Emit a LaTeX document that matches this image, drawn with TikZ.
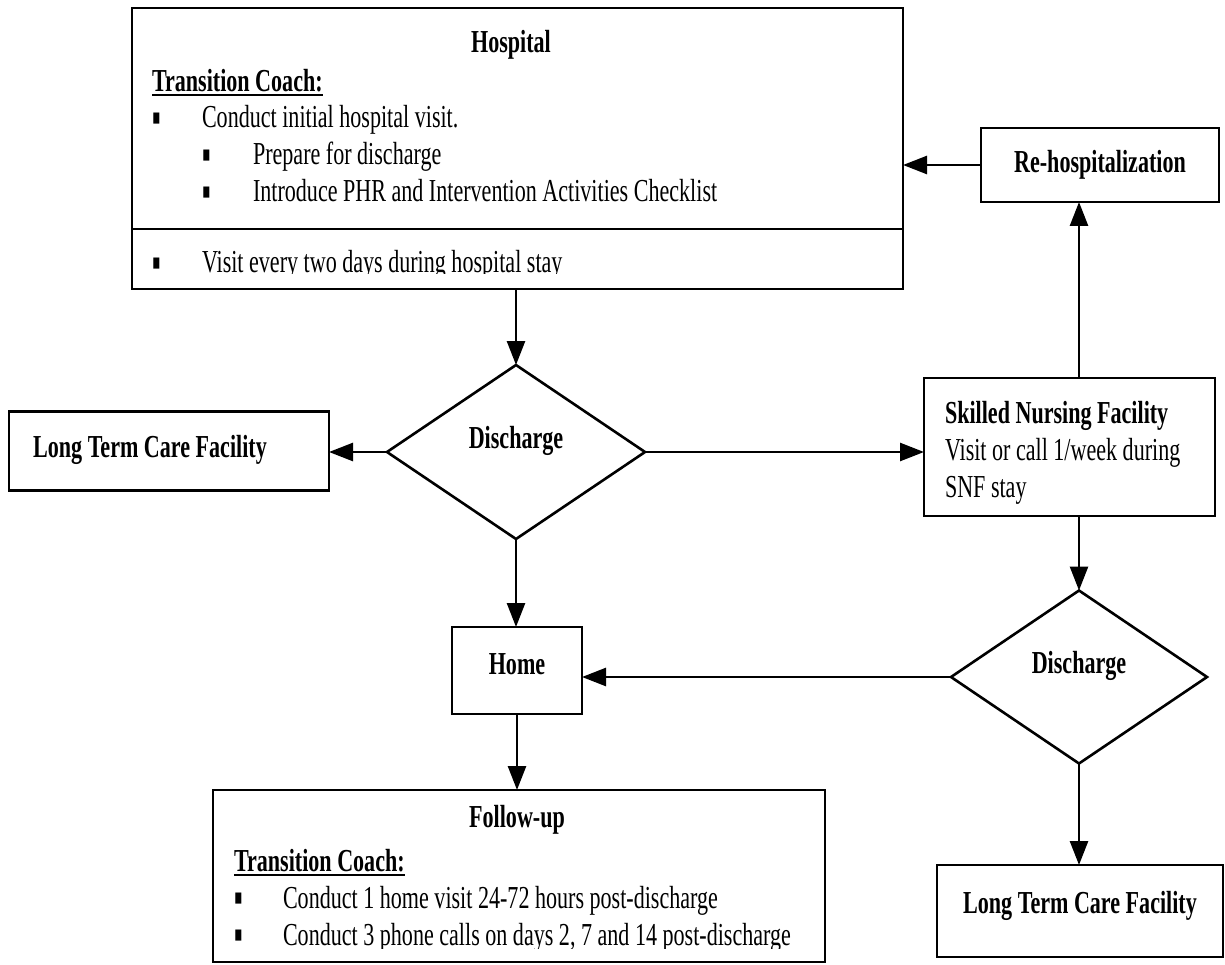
\documentclass[tikz,border=0pt]{standalone}
\usepackage{fontspec}
\setmainfont{Liberation Serif}[FakeStretch=0.69]
\usetikzlibrary{arrows.meta,shapes.geometric}
\newcommand\ulc[1]{\setbox0\hbox{#1}\rlap{\rule[-4.5pt]{\wd0}{2pt}}\box0}
\newcommand\bul{\smash{\raisebox{-4.5pt}{\scalebox{1.1}[1.4]{▪}}}}
\begin{document}
\begin{tikzpicture}[x=1pt,y=-1pt,line width=2.6pt,
  every node/.style={font=\fontsize{32pt}{37pt}\selectfont,inner sep=0pt,outer sep=0pt},
  box/.style={draw,rectangle},
  dia/.style={draw,diamond},
  txt/.style={anchor=base west},
  ctxt/.style={anchor=base,font=\fontsize{32pt}{37pt}\selectfont\bfseries},
  arr/.style={-{Triangle[length=24pt,width=18pt]}}]
\useasboundingbox (0,0) rectangle (1225,965);
% boxes
\node[box,minimum width=771pt,minimum height=281pt] (hosp) at (517.5,148.5) {};
\coordinate (divl) at (132,229);
\coordinate (divr) at (903,229);
\draw (divl) -- (divr);
\node[box,minimum width=238pt,minimum height=74pt] (rehosp) at (1100,165) {};
\node[box,minimum width=291pt,minimum height=138pt] (snf) at (1069.5,447) {};
\node[box,minimum width=320pt,minimum height=79pt] (ltc1) at (169,451) {};
\node[dia,minimum width=258pt,minimum height=174pt] (d1) at (516,452) {};
\node[dia,minimum width=256pt,minimum height=173pt] (d2) at (1079,677) {};
\node[box,minimum width=130pt,minimum height=87pt] (home) at (517,670.5) {};
\node[box,minimum width=612pt,minimum height=172pt] (fu) at (519,876) {};
\node[box,minimum width=286pt,minimum height=92pt] (ltc2) at (1080,911) {};
% hospital text
\node[ctxt] (hosptitle) at (511,53) {Hospital};
\node[txt,font=\fontsize{32pt}{37pt}\selectfont\bfseries] (htc) at (152,92) {\ulc{Transition Coach:}};
\node[anchor=base] (hb1) at (157,128) {\bul};
\node[txt] (ht1) at (202,128) {Conduct initial hospital visit.};
\node[anchor=base] (hb2) at (207,165) {\bul};
\node[txt] (ht2) at (253,165) {Prepare for discharge};
\node[anchor=base] (hb3) at (207,202) {\bul};
\node[txt] (ht3) at (253,202) {Introduce PHR and Intervention Activities Checklist};
\begin{scope}
\clip (132,230) rectangle (903,274);
\node[anchor=base] (hb4) at (157,273) {\bul};
\node[txt] (ht4) at (202,273) {Visit every two days during hospital stay};
\end{scope}
% other text
\node[ctxt] (rht) at (1100,173) {Re-hospitalization};
\node[txt,font=\fontsize{32pt}{37pt}\selectfont\bfseries] (snft1) at (945,423) {Skilled Nursing Facility};
\node[txt] (snft2) at (945,460) {Visit or call 1/week during};
\node[txt] (snft3) at (945,497) {SNF stay};
\node[ctxt] (ltc1t) at (150,457) {Long Term Care Facility};
\node[ctxt] (d1t) at (516,448) {Discharge};
\node[ctxt] (d2t) at (1079,673) {Discharge};
\node[ctxt] (homet) at (517,674) {Home};
\node[ctxt] (ltc2t) at (1080,913) {Long Term Care Facility};
% follow-up text
\node[ctxt] (fut) at (517,827) {Follow-up};
\node[txt,font=\fontsize{32pt}{37pt}\selectfont\bfseries] (ftc) at (234,871) {\ulc{Transition Coach:}};
\node[anchor=base] (fb1) at (239,908) {\bul};
\node[txt] (ft1) at (283,908) {Conduct 1 home visit 24-72 hours post-discharge};
\begin{scope}
\clip (213,915) rectangle (825,948);
\node[anchor=base] (fb2) at (239,945) {\bul};
\node[txt] (ft2) at (283,945) {Conduct 3 phone calls on days 2, 7 and 14 post-discharge};
\end{scope}
% connectors
\draw[arr] (rehosp.west) -- (hosp.east |- rehosp.west);
\draw[arr] (d1.north |- hosp.south) -- (d1.north);
\draw[arr] (d1.west) -- (ltc1.east |- d1.west);
\draw[arr] (d1.east) -- (snf.west |- d1.east);
\draw[arr] (snf.north -| d2.north) -- (rehosp.south -| d2.north);
\draw[arr] (snf.south -| d2.north) -- (d2.north);
\draw[arr] (d2.west) -- (home.east |- d2.west);
\draw[arr] (d1.south) -- (home.north -| d1.south);
\draw[arr] (home.south) -- (fu.north -| home.south);
\draw[arr] (d2.south) -- (ltc2.north -| d2.south);
\end{tikzpicture}
\end{document}
